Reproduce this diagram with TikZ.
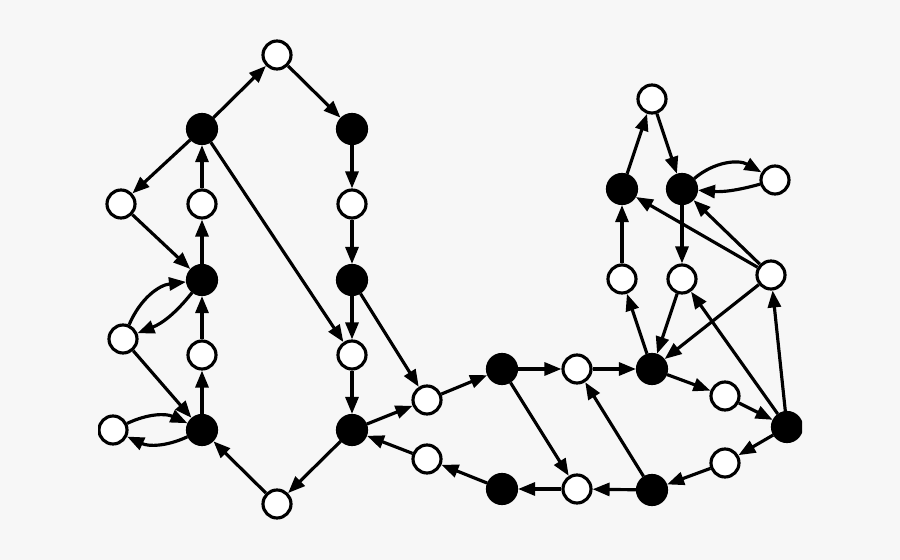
\documentclass[tikz,border=0pt]{standalone}
\usetikzlibrary{arrows.meta}
\definecolor{bggray}{HTML}{F7F7F7}
\begin{document}
\begin{tikzpicture}[x=0.02cm,y=-0.02cm,line width=1.8pt,
    >={Triangle[length=0.34cm,width=0.26cm]}]

        \fill[bggray] (0,0) rectangle (900,560);
        \useasboundingbox (0,0) rectangle (900,560);
        \clip (98,0) rectangle (802,560);

        \begin{scope}[every node/.style={circle,draw,fill=white,minimum size=0.56cm,inner sep=0pt}]
          \node (1)  at (277,55)  {};
          \node (4)  at (121,204) {};
          \node (5)  at (202,204) {};
          \node (6)  at (352,204) {};
          \node (9)  at (123,339) {};
          \node (10) at (202,355) {};
          \node (11) at (352,355) {};
          \node (12) at (113,430) {};
          \node (15) at (277,504) {};
          \node (16) at (427,400) {};
          \node (17) at (427,459) {};
          \node (19) at (577,369) {};
          \node (22) at (577,489) {};
          \node (24) at (725,396) {};
          \node (25) at (725,463) {};
          \node (27) at (652,99)  {};
          \node (30) at (775,180) {};
          \node (31) at (622,279) {};
          \node (32) at (682,279) {};
          \node (33) at (771,275) {};
        \end{scope}

        \begin{scope}[every node/.style={circle,draw,fill=black,minimum size=0.58cm,inner sep=0pt}]
          \node (2)  at (202,129) {};
          \node (3)  at (352,129) {};
          \node (7)  at (202,280) {};
          \node (8)  at (352,280) {};
          \node (13) at (202,430) {};
          \node (14) at (352,430) {};
          \node (18) at (502,369) {};
          \node (20) at (652,369) {};
          \node (21) at (502,489) {};
          \node (23) at (652,490) {};
          \node (26) at (787,427) {};
          \node (28) at (622,189) {};
          \node (29) at (682,189) {};
        \end{scope}

        \begin{scope}[every edge/.style={draw,->}]
          % left loop
          \path (2)  edge (1);
          \path (1)  edge (3);
          \path (2)  edge (4);
          \path (4)  edge (7);
          \path (5)  edge (2);
          \path (7)  edge (5);
          \path (2)  edge (11);
          \path (3)  edge (6);
          \path (6)  edge (8);
          \path (8)  edge (11);
          \path (11) edge (14);
          \path (8)  edge (16);
          \path (9)  edge[bend left=30] (7);
          \path (7)  edge[bend left=15] (9);
          \path (9)  edge (13);
          \path (10) edge (7);
          \path (13) edge (10);
          \path (12) edge[bend left=25] (13);
          \path (13) edge[bend left=25] (12);
          \path (15) edge (13);
          \path (14) edge (15);
          \path (14) edge (16);
          \path (17) edge (14);

          % middle
          \path (16) edge (18);
          \path (18) edge (19);
          \path (19) edge (20);
          \path (18) edge (22);
          \path (23) edge (19);
          \path (23) edge (22);
          \path (22) edge (21);
          \path (21) edge (17);

          % right part
          \path (20) edge (24);
          \path (24) edge (26);
          \path (26) edge (25);
          \path (25) edge (23);
          \path (26) edge (33);
          \path (26) edge (32);
          \path (33) edge (20);
          \path (33) edge (28);
          \path (33) edge (29);
          \path (20) edge (31);
          \path (32) edge (20);
          \path (29) edge (32);
          \path (31) edge (28);
          \path (28) edge (27);
          \path (27) edge (29);
          \path (29) edge[bend left=35] (30);
          \path (30) edge[bend left=10] (29);
        \end{scope}

      \end{tikzpicture}
\end{document}
